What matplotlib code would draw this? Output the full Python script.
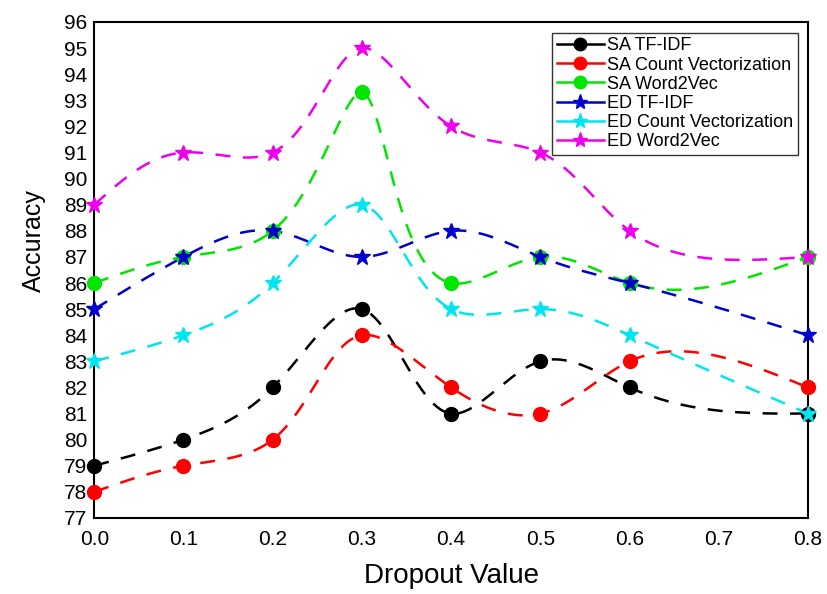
import numpy as np
import matplotlib.pyplot as plt
from matplotlib.lines import Line2D

plt.rcParams['font.family'] = ['Liberation Sans', 'DejaVu Sans']

dropout = [0.0, 0.1, 0.2, 0.3, 0.4, 0.5, 0.6, 0.8]
xticks = [0.0, 0.1, 0.2, 0.3, 0.4, 0.5, 0.6, 0.7, 0.8]

sa_tfidf = [79, 80, 82, 85, 81, 83, 82, 81]
sa_count = [78, 79, 80, 84, 82, 81, 83, 82]
sa_w2v = [86, 87, 88, 93.3, 86, 87, 86, 87]
ed_tfidf = [85, 87, 88, 87, 88, 87, 86, 84]
ed_count = [83, 84, 86, 89, 85, 85, 84, 81]
ed_w2v = [89, 91, 91, 95, 92, 91, 88, 87]

labels = ['SA TF-IDF', 'SA Count Vectorization', 'SA Word2Vec',
          'ED TF-IDF', 'ED Count Vectorization', 'ED Word2Vec']
series = [sa_tfidf, sa_count, sa_w2v, ed_tfidf, ed_count, ed_w2v]
colors = ['#000000', '#ff0000', '#00e600', '#0000cc', '#00e5ee', '#ee00ee']
markers = ['o', 'o', 'o', '*', '*', '*']


def natural_coeffs(t, v):
    # second-derivative terms of a natural cubic spline v(t)
    k = len(t)
    h = np.diff(t)
    A = np.zeros((k, k))
    b = np.zeros(k)
    A[0, 0] = A[-1, -1] = 1
    for i in range(1, k - 1):
        A[i, i - 1] = h[i - 1]
        A[i, i] = 2 * (h[i - 1] + h[i])
        A[i, i + 1] = h[i]
        b[i] = 3 * ((v[i + 1] - v[i]) / h[i] - (v[i] - v[i - 1]) / h[i - 1])
    return np.linalg.solve(A, b)


def eval_spline(t, v, ts):
    c = natural_coeffs(t, v)
    h = np.diff(t)
    idx = np.clip(np.searchsorted(t, ts) - 1, 0, len(t) - 2)
    dt = ts - t[idx]
    bb = (v[idx + 1] - v[idx]) / h[idx] - h[idx] * (2 * c[idx] + c[idx + 1]) / 3
    dd = (c[idx + 1] - c[idx]) / (3 * h[idx])
    return v[idx] + bb * dt + c[idx] * dt ** 2 + dd * dt ** 3


def smooth_line(ax, x, y, n=600):
    # parametric spline through the points, laid out in screen space
    pts = ax.transData.transform(np.column_stack([x, y]))
    seg = np.hypot(*np.diff(pts, axis=0).T)
    t = np.concatenate([[0], np.cumsum(seg)])
    ts = np.linspace(0, t[-1], n)
    px = eval_spline(t, pts[:, 0], ts)
    py = eval_spline(t, pts[:, 1], ts)
    out = ax.transData.inverted().transform(np.column_stack([px, py]))
    return out[:, 0], out[:, 1]


fig = plt.figure(figsize=(8.27, 5.94), dpi=100)
ax = fig.add_axes([0.114, 0.128, 0.863, 0.835])
ax.set_xlim(0.0, 0.8)
ax.set_ylim(77, 96)

handles = []
for vals, lab, col, mk in zip(series, labels, colors, markers):
    xs, ys = smooth_line(ax, dropout, vals)
    ax.plot(xs, ys, color=col, lw=1.8, dashes=(6, 5), zorder=2)
    ms = 10 if mk == 'o' else 12
    ax.plot(dropout, vals, ls='none', marker=mk, ms=ms, color=col,
            clip_on=False, zorder=3)
    handles.append(Line2D([], [], color=col, lw=1.8, marker=mk,
                          ms=9 if mk == 'o' else 11, label=lab))

ax.set_xticks(xticks)
ax.set_xticklabels([f'{t:.1f}' for t in xticks])
ax.set_yticks(range(77, 97))
ax.tick_params(axis='x', length=0, labelsize=15, pad=9)
ax.tick_params(axis='y', length=0, labelsize=15, pad=5)
for s in ax.spines.values():
    s.set_linewidth(1.5)

ax.set_xlabel('Dropout Value', fontsize=20)
ax.xaxis.set_label_coords(0.5, -0.09)
ax.set_ylabel('Accuracy', fontsize=18)
ax.yaxis.set_label_coords(-0.068, 0.56)

leg = ax.legend(handles=handles, loc='upper right', bbox_to_anchor=(0.986, 0.978),
                fontsize=13, frameon=True, fancybox=False, framealpha=1,
                edgecolor='#333333', handlelength=2.6, handletextpad=0.2,
                labelspacing=0.12, borderpad=0.25, borderaxespad=0)
leg.get_frame().set_linewidth(1.0)

fig.savefig('out.png', dpi=100)
